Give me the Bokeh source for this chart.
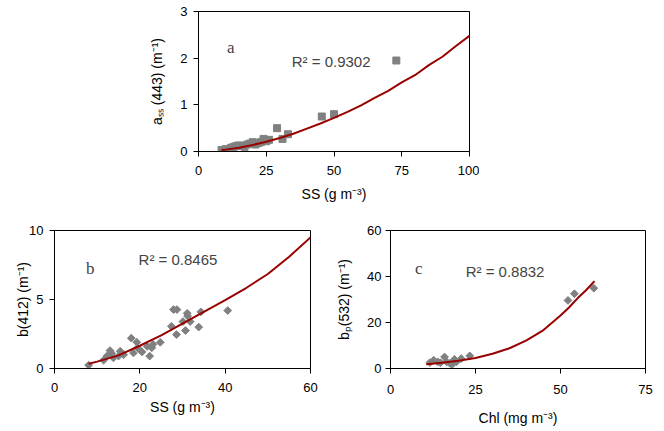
import numpy as np
from bokeh.plotting import figure
from bokeh.layouts import column, row
from bokeh.models import FixedTicker, Label, Spacer
from bokeh.embed import file_html
from bokeh.resources import INLINE

# ---------------- data ----------------
# panel a: absorption by suspended sediment vs SS
a_ss = [8.5, 10, 12, 13, 14, 15, 16, 17, 18, 19, 20, 21, 22, 23, 24, 25, 26, 29, 31, 33, 45.5, 50, 73]
a_val = [0.03, 0.05, 0.08, 0.10, 0.12, 0.13, 0.12, 0.10, 0.15, 0.17, 0.20, 0.15, 0.18, 0.20, 0.27, 0.22, 0.25, 0.50, 0.27, 0.37, 0.75, 0.80, 1.95]
a_fit_x = [8.5, 10, 15, 20, 25, 30, 35, 40, 45, 50, 55, 60, 65, 70, 75, 80, 85, 90, 95, 100]
a_fit_y = [0.03, 0.04, 0.08, 0.14, 0.21, 0.29, 0.38, 0.49, 0.60, 0.72, 0.85, 0.99, 1.15, 1.30, 1.48, 1.64, 1.85, 2.03, 2.26, 2.48]

# panel b: b(412) vs SS
b_ss = [8.0, 11.5, 12.3, 13.0, 13.4, 13.8, 15.0, 15.4, 16.2, 18.0, 18.5, 19.3, 19.5, 20.5, 21.7, 22.3, 22.8, 23.1,
        24.8, 27.4, 27.9, 28.7, 28.6, 30.1, 30.7, 31.1, 31.2, 31.8, 33.8, 34.3, 40.6]
b_val = [0.24, 0.6, 0.9, 1.3, 1.1, 0.77, 0.9, 1.25, 1.0, 2.2, 1.13, 1.9, 1.5, 1.2, 1.6, 0.9, 1.5, 1.75,
         1.9, 3.06, 4.27, 4.27, 2.46, 3.4, 2.75, 4.0, 3.8, 3.4, 3.0, 4.1, 4.2]
b_fit_x = [8, 10, 15, 20, 25, 30, 35, 40, 45, 50, 55, 60]
b_fit_y = [0.35, 0.5, 0.95, 1.65, 2.4, 3.25, 4.1, 4.95, 5.85, 6.85, 8.1, 9.5]

# panel c: bp(532) vs Chl
c_chl = [11.6, 12.7, 13.9, 14.7, 15.9, 16.5, 17.5, 18.1, 18.8, 19.4, 20.8, 23.3, 52.2, 54.1, 59.8]
c_val = [2.6, 3.6, 2.9, 2.5, 5.0, 2.9, 2.2, 1.7, 4.0, 2.9, 4.3, 5.5, 29.6, 32.5, 34.9]
c_fit_x = [10.5, 15, 20, 25, 30, 35, 40, 45, 50, 52.5, 55, 57.5, 60]
c_fit_y = [1.9, 2.5, 3.4, 4.6, 6.4, 8.8, 12.2, 16.7, 23.0, 26.5, 30.5, 34.0, 38.0]

FONT = "Liberation Sans"
SERIF = "Liberation Serif"
GRAY = "#808080"
RED = "#990000"


def make_fig(xr, yr, xt, yt, xlabel, ylabel, fw, fh, bl, br, bt, bb,
             ylab_standoff, xlab_standoff, xtick_standoff, ytick_standoff):
    p = figure(frame_width=fw, frame_height=fh, x_range=xr, y_range=yr,
               output_backend="svg", toolbar_location=None,
               min_border_left=bl, min_border_right=br, min_border_top=bt, min_border_bottom=bb)
    p.grid.visible = False
    p.outline_line_color = "black"
    p.outline_line_width = 1
    p.background_fill_color = "white"
    p.border_fill_color = "white"
    p.xaxis.ticker = FixedTicker(ticks=xt)
    p.yaxis.ticker = FixedTicker(ticks=yt)
    for ax in (p.xaxis[0], p.yaxis[0]):
        ax.major_tick_in = 0
        ax.major_tick_out = 5
        ax.minor_tick_line_color = None
        ax.axis_line_color = "black"
        ax.major_tick_line_color = "black"
        ax.major_label_text_font = FONT
        ax.major_label_text_font_size = "13px"
        ax.major_label_text_color = "black"
        ax.axis_label_text_font = FONT
        ax.axis_label_text_font_size = "14px"
        ax.axis_label_text_font_style = "normal"
        ax.axis_label_text_color = "black"
    p.xaxis.axis_label = xlabel
    p.yaxis.axis_label = ylabel
    p.xaxis.major_label_standoff = xtick_standoff
    p.yaxis.major_label_standoff = ytick_standoff
    p.xaxis.axis_label_standoff = xlab_standoff
    p.yaxis.axis_label_standoff = ylab_standoff
    return p


# ---- panel a ----
pa = make_fig((0, 100), (0, 3), [0, 25, 50, 75, 100], [0, 1, 2, 3],
              "SS (g m⁻³)", "aₛₛ (443) (m⁻¹)", 271, 140, 50, 10, 11, 56, 12, 8, 9, 6)
pa.scatter(a_ss, a_val, marker="square", size=7, color=GRAY)
pa.line(a_fit_x, a_fit_y, line_color=RED, line_width=2)
pa.add_layout(Label(x=11.9, y=2.22, text="a", text_font=SERIF, text_font_size="17px",
                    text_align="center", text_baseline="middle"))
pa.add_layout(Label(x=34.4, y=1.93, text="R² = 0.9302", text_font=FONT, text_font_size="15px",
                    text_baseline="middle"))

# ---- panel b ----
pb = make_fig((0, 60), (0, 10), [0, 20, 40, 60], [0, 5, 10],
              "SS (g m⁻³)", "b(412) (m⁻¹)", 256, 138, 54, 20, 22, 56, -5, 4, 9, 6)
pb.scatter(b_ss, b_val, marker="square", angle=np.pi / 4, size=5.5, color=GRAY)
pb.line(b_fit_x, b_fit_y, line_color=RED, line_width=2)
pb.add_layout(Label(x=8.4, y=7.27, text="b", text_font=SERIF, text_font_size="17px",
                    text_align="center", text_baseline="middle"))
pb.add_layout(Label(x=19.7, y=7.92, text="R² = 0.8465", text_font=FONT, text_font_size="15px",
                    text_baseline="middle"))

# ---- panel c ----
pc = make_fig((0, 75), (0, 60), [0, 25, 50, 75], [0, 20, 40, 60],
              "Chl (mg m⁻³)", "bₚ(532) (m⁻¹)", 255, 138, 60, 19, 23, 62, 12, 13, 11, 4)
pc.scatter(c_chl, c_val, marker="square", angle=np.pi / 4, size=5.5, color=GRAY)
pc.line(c_fit_x, c_fit_y, line_color=RED, line_width=2)
pc.add_layout(Label(x=8.3, y=43.5, text="c", text_font=SERIF, text_font_size="17px",
                    text_align="center", text_baseline="middle"))
pc.add_layout(Label(x=22.1, y=42.1, text="R² = 0.8832", text_font=FONT, text_font_size="15px",
                    text_baseline="middle"))

layout = column(row(Spacer(width=146, height=207), pa), row(pb, pc), spacing=0)

open("out.html", "w").write(file_html(layout, INLINE))
